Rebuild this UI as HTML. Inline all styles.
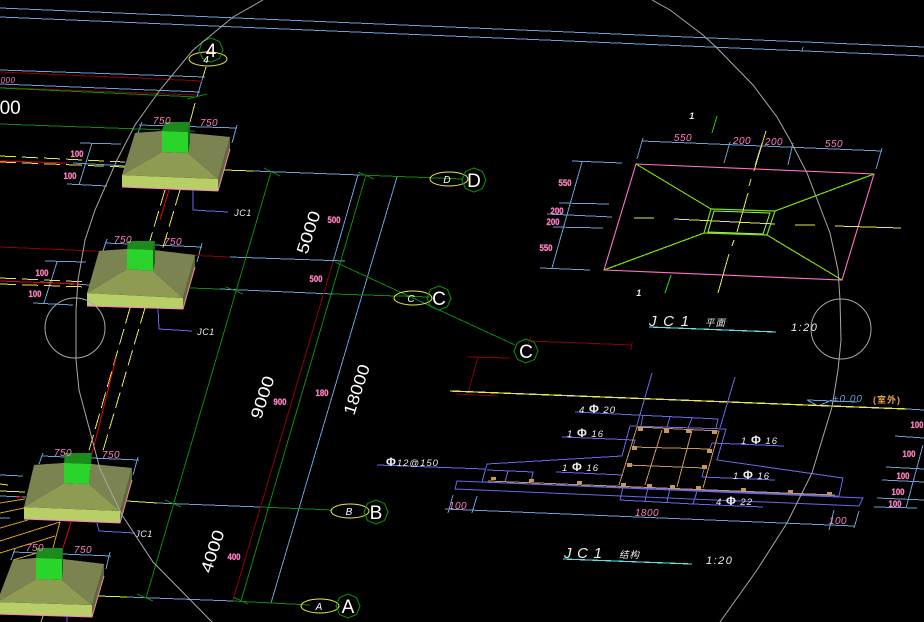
<!DOCTYPE html>
<html lang="en"><head><meta charset="utf-8"><title>JC1 foundation drawing</title>
<style>
html,body{margin:0;padding:0;background:#000;width:924px;height:622px;overflow:hidden}
svg{display:block}
text{font-family:"Liberation Sans","Noto Sans CJK SC",sans-serif}
path{shape-rendering:crispEdges}
.w{fill:#fff;font-size:16.5px}
.top{fill:#fff;font-size:19px}
.gl{fill:#fff;font-size:19px;text-anchor:middle}
.il{fill:#fff;font-size:10px;font-style:italic;text-anchor:middle}
.p{fill:#ff80c0;font-size:10px;font-style:italic;letter-spacing:.5px;text-anchor:middle}
.b{fill:#ff80c0;stroke:#ff80c0;stroke-width:.3;font-size:9px;font-weight:bold;text-anchor:middle}
.s{fill:#eee;font-size:9px;font-style:italic;letter-spacing:.5px;text-anchor:middle}
.t{fill:#eee;font-size:9.5px;font-style:italic;letter-spacing:1px}
.f{font-size:12px;font-weight:bold;font-style:normal}
.blue{stroke:#6aa0d8}.grn{stroke:#0a8a0a}.red{stroke:#8a0000}.rr{stroke:#e80000}.yel{stroke:#e8e84c}
.pur{stroke:#6868ec}.org{stroke:#c89858}.gold{stroke:#d8a020}
g{fill:none;stroke-width:1}
.d{fill:#c89858;stroke:none}
</style></head><body>
<svg width="924" height="622" viewBox="0 0 924 622" xmlns="http://www.w3.org/2000/svg">
<defs><polygon id="o" points="12,0 8.5,8.5 0,12 -8.5,8.5 -12,0 -8.5,-8.5 0,-12 8.5,-8.5" fill="none" stroke="#0a8a0a" stroke-width="1.1"/></defs>
<rect width="924" height="622" fill="#000"/>

<!-- top / left plan lines -->
<g class="blue">
<path d="M0 8L924 47M0 17L924 56M803 47L802 51"/>
<path d="M0 70L205 77M0 84L200 92M203 77L197 97"/>
<path d="M642 141L882 151M643 138L637 159M730 142L724 163M762 143L755 165M793 143L788 165M882 148L876 169"/>
<path d="M582 162L552 268M572 161L622 163M559 203L609 204M547 214L612 217M553 227L603 228M540 268L590 270"/>
<path d="M139 125L237 128M142 122L138 133M237 125L232 143M80 143L121 144M67 184L107 186M92 143L79 185M73 163L127 166"/>
<path d="M105 243L202 247M107 239L103 251M202 243L197 262M45 261L86 262M33 303L73 305M57 262L44 303M40 282L90 285"/>
<path d="M42 456L139 460M43 453L39 464M138 457L133 475M0 475L23 476M0 496L26 497M0 518L10 518"/>
<path d="M13 552L111 556M15 549L11 560M110 552L106 569"/>
<path d="M253 171L360 175M230 257L345 261M220 289L333 294M157 503L260 507M127 597L233 601"/>
<path d="M358 175L333 262M397 177L271 603"/>
<path d="M445 509L854 526M453 495L448 513M477 496L472 513M834 510L829 530M859 511L854 528"/>
<path d="M807 400L818 406L832 400M807 400L857 402"/>
<path d="M907 409L924 410M895 436L924 438M886 467L924 469M882 480L924 482M877 498L924 500M874 507L917 508M923 445L906 508"/>
</g>
<g>
<path class="red" d="M0 72L202 81M0 87.500L197 95M0 247L230 257"/>
<path class="grn" d="M0 88L197 97M187 99L207 94M0 124L195 131M190 288L220 289M333 294L430 297M360 175L463 179M260 507L333 510M233 601L310 605"/>
<path class="grn" d="M271 172L146 598M366 175L241 601M335 262L515 345"/>
<path class="grn" d="M264 168L280 176M358 172L374 179M226 287L243 294M165 500L181 507M137 594L153 601M233 597L248 604"/>
<path class="red" d="M333 262L233 600"/>
<path class="red" d="M467 357L510 358M478 357L468 393M456 394L498 396M530 341L632 345M632 342L631 350M531 337L527 347"/>
<path class="yel" d="M206 67L203 77M195 103L190 122M224 170L253 171M127 501L157 503M98 596L127 597"/>
<path class="yel" stroke-width="1.3" d="M450 391L907 409"/>
</g>

<!-- dashed columns -->
<g class="yel" stroke-dasharray="16 6">
<path d="M0 156L125 162M0 162L125 167M0 278L88 282M0 284L88 287"/>
<path d="M165 190L130 308M180 190L145 308M130 308L88 454M145 308L102 454"/>
</g>
<g class="yel"><path d="M0 491L25 492M0 484L8 485"/></g>
<g class="rr">
<path d="M0 161L67 163M0 281L80 284M169 190L160 220M116 358L92 454M71 522L63 548M16 497L22 497"/>
</g>
<g class="gold">
<path d="M0 503L25 499M0 513L24 508M0 528L28 520M0 541L60 522M0 553L55 536M13 560L37 553M60 522L53 548M43 616L41 622"/>
</g>

<!-- footings -->
<g stroke="none" style="stroke:none">
<polygon style="fill:#5f6a38" points="230,137 218,179 218,191 230,149"/>
<polygon style="fill:#b8cf68" points="122,175 218,179 218,191 122,187"/>
<polygon style="fill:#6f7545" points="135,133 230,137 188,133 162,131"/>
<polygon style="fill:#7b8450" points="135,133 122,175 162,152 162,131"/>
<polygon style="fill:#7b8450" points="230,137 218,179 188,153 188,133"/>
<polygon style="fill:#8d9c52" points="122,175 218,179 188,153 162,152"/>
<polygon style="fill:#1c8a1c" points="165,122 190,122 188,132 162,131"/>
<polygon style="fill:#146a14" points="190,122 188,132 188,153 190,143"/>
<polygon style="fill:#2bd42b" points="162,131 188,132 188,153 162,152"/>

<polygon style="fill:#5f6a38" points="195,255 183,298 183,309 195,267"/>
<polygon style="fill:#b8cf68" points="87,293 183,298 183,309 87,306"/>
<polygon style="fill:#6f7545" points="99,251 195,255 153,250 127,249"/>
<polygon style="fill:#7b8450" points="99,251 87,293 127,269 127,249"/>
<polygon style="fill:#7b8450" points="195,255 183,298 153,271 153,250"/>
<polygon style="fill:#8d9c52" points="87,293 183,298 153,271 127,269"/>
<polygon style="fill:#1c8a1c" points="128,241 155,241 153,250 127,249"/>
<polygon style="fill:#146a14" points="155,241 153,250 153,271 155,262"/>
<polygon style="fill:#2bd42b" points="127,249 153,250 153,271 127,269"/>

<polygon style="fill:#5f6a38" points="132,468 120,511 120,523 132,480"/>
<polygon style="fill:#b8cf68" points="24,507 120,511 120,523 24,519"/>
<polygon style="fill:#6f7545" points="34,465 132,468 91,464 64,463"/>
<polygon style="fill:#7b8450" points="34,465 24,507 64,483 64,463"/>
<polygon style="fill:#7b8450" points="132,468 120,511 89,484 91,464"/>
<polygon style="fill:#8d9c52" points="24,507 120,511 89,484 64,483"/>
<polygon style="fill:#1c8a1c" points="65,453 92,453 91,464 64,463"/>
<polygon style="fill:#146a14" points="92,453 91,464 89,484 90,474"/>
<polygon style="fill:#2bd42b" points="64,463 91,464 89,484 64,483"/>

<polygon style="fill:#5f6a38" points="104,564 92,605 92,617 104,576"/>
<polygon style="fill:#b8cf68" points="-3,602 92,605 92,617 -3,614"/>
<polygon style="fill:#6f7545" points="13,560 104,564 62,559 36,558"/>
<polygon style="fill:#7b8450" points="13,560 -3,602 36,579 36,558"/>
<polygon style="fill:#7b8450" points="104,564 92,605 62,580 62,559"/>
<polygon style="fill:#8d9c52" points="-3,602 92,605 62,580 36,579"/>
<polygon style="fill:#1c8a1c" points="37,548 63,548 62,559 36,558"/>
<polygon style="fill:#146a14" points="63,548 62,559 62,580 63,569"/>
<polygon style="fill:#2bd42b" points="36,558 62,559 62,580 36,579"/>
</g>
<g stroke="#ff80c0" stroke-width="1.2" style="stroke:#ff80c0">
<polyline points="122,187 218,191 230,149"/><polyline points="87,306 183,309 195,267"/><polyline points="24,519 120,523 132,480"/><polyline points="-3,614 92,617 104,576"/>
</g>

<!-- leaders -->
<g class="pur">
<path d="M193 190L193 210L228 212M158 308L159 329L192 331M97 523L99 531L135 533M67 617L67 622"/>
</g>

<!-- plan view JC1 -->
<g>
<polygon style="stroke:#ff70c8;stroke-width:1.1" points="636,164 874,174 842,280 604,270"/>
<g style="stroke:#7ee000;stroke-width:1.2">
<path d="M636 164L711 209M874 174L775 211M842 280L767 235M604 270L704 233"/>
<polygon points="711,209 775,211 767,235 704,233"/>
</g>
<polygon style="stroke:#a0f080" points="714,211 770,213 763,234 708,232"/>
<path class="yel" d="M634 218L654 218M674 219L775 224M795 225L815 225M835 226L901 228M766 131L754 171M751 179L749 186M748 193L737 232M734 240L732 246M729 254L718 293"/>
<path style="stroke:#10d010" d="M717 116L712 133M671 275L665 293"/>
<path style="stroke:#60e0e0;stroke-width:1.2" d="M649 327L776 332M563 559L692 564"/>
</g>

<!-- section view -->
<g class="pur">
<path d="M630 426L726 429L717 460L843 478L839 496M630 426L622 456L487 464L482 482"/>
<polygon points="457,481 863,498 859,506 455,489"/>
<path d="M487 470L533 472L531 482M508 471L505 482M482 482L839 496"/>
<path d="M377 465L485 469M562 437L635 440L633 448M556 472L623 475M712 443L784 446M712 443L708 453M702 477L775 480M702 477L705 465M693 504L763 507"/>
<path d="M575 412L718 419L716 428M652 373L637 425M735 377L720 428M643 415L641 426M670 417L667 427M692 418L688 428"/>
<path d="M620 500L693 504M623 487L620 500M648 487L645 501M670 488L667 502M698 488L693 504"/>
</g>
<g class="org">
<path d="M637 427L719 431M632 447L710 449M627 465L705 468M488 481L835 495"/>
<path d="M637 427L619 485M662 430L645 485M692 430L677 487M719 431L703 488"/>
</g>
<rect class="d" x="638" y="427" width="5" height="4"/><rect class="d" x="664" y="429" width="5" height="4"/><rect class="d" x="686" y="429" width="5" height="4"/><rect class="d" x="712" y="430" width="5" height="4"/>
<rect class="d" x="632" y="446" width="5" height="4"/><rect class="d" x="707" y="449" width="5" height="4"/><rect class="d" x="627" y="463" width="5" height="4"/><rect class="d" x="702" y="465" width="5" height="4"/>
<rect class="d" x="491" y="477" width="5" height="3"/><rect class="d" x="529" y="479" width="5" height="3"/><rect class="d" x="577" y="481" width="5" height="3"/><rect class="d" x="621" y="483" width="5" height="3"/><rect class="d" x="647" y="484" width="5" height="3"/><rect class="d" x="670" y="485" width="5" height="3"/><rect class="d" x="696" y="486" width="5" height="3"/><rect class="d" x="741" y="488" width="5" height="3"/><rect class="d" x="788" y="490" width="5" height="3"/><rect class="d" x="827" y="492" width="5" height="3"/>

<!-- rotated dimensions -->
<text class="w" transform="translate(307 255) rotate(-72)" textLength="44" lengthAdjust="spacingAndGlyphs">5000</text>
<text class="w" transform="translate(261 420) rotate(-72)" textLength="44" lengthAdjust="spacingAndGlyphs">9000</text>
<text class="w" transform="translate(354 416) rotate(-72)" textLength="52" lengthAdjust="spacingAndGlyphs">18000</text>
<text class="w" transform="translate(211 574) rotate(-72)" textLength="44" lengthAdjust="spacingAndGlyphs">4000</text>
<text class="top" x="-11" y="114">000</text>
<text class="p" x="8" y="83" style="font-size:8px">000</text>

<!-- grid bubbles -->
<g class="yel"><ellipse cx="208" cy="59" rx="19" ry="7"/><ellipse cx="449" cy="179" rx="19" ry="7"/><ellipse cx="413" cy="298" rx="19" ry="7"/><ellipse cx="350" cy="511" rx="19" ry="7"/><ellipse cx="320" cy="606" rx="19" ry="7"/></g>
<use href="#o" x="211" y="50"/><use href="#o" x="474" y="180"/><use href="#o" x="439" y="298"/><use href="#o" x="526" y="351"/><use href="#o" x="376" y="512"/><use href="#o" x="348" y="606"/>
<text class="gl" x="211" y="57">4</text><text class="gl" x="474" y="187">D</text><text class="gl" x="439" y="305">C</text><text class="gl" x="526" y="358">C</text><text class="gl" x="376" y="519">B</text><text class="gl" x="348" y="613">A</text>
<text class="il" x="206" y="63">4</text><text class="il" x="447" y="183">D</text><text class="il" x="411" y="302">C</text><text class="il" x="349" y="515">B</text><text class="il" x="319" y="610">A</text>

<!-- pink dimension text -->
<text class="p" x="162" y="124">750</text><text class="p" x="209" y="126">750</text>
<text class="p" x="123" y="243">750</text><text class="p" x="173" y="245">750</text>
<text class="p" x="63" y="456">750</text><text class="p" x="111" y="458">750</text>
<text class="p" x="35" y="551">750</text><text class="p" x="83" y="553">750</text>
<text class="p" x="683" y="141">550</text><text class="p" x="742" y="144">200</text><text class="p" x="774" y="145">200</text><text class="p" x="834" y="147">550</text>
<text class="p" x="458" y="509">100</text><text class="p" x="647" y="516">1800</text><text class="p" x="838" y="524">100</text>
<text class="b" x="77" y="157" textLength="13" lengthAdjust="spacingAndGlyphs">100</text><text class="b" x="70" y="179" textLength="13" lengthAdjust="spacingAndGlyphs">100</text>
<text class="b" x="42" y="276" textLength="13" lengthAdjust="spacingAndGlyphs">100</text><text class="b" x="35" y="297" textLength="13" lengthAdjust="spacingAndGlyphs">100</text>
<text class="b" x="334" y="223" textLength="13" lengthAdjust="spacingAndGlyphs">500</text><text class="b" x="316" y="282" textLength="13" lengthAdjust="spacingAndGlyphs">500</text>
<text class="b" x="280" y="405" textLength="13" lengthAdjust="spacingAndGlyphs">900</text><text class="b" x="322" y="396" textLength="13" lengthAdjust="spacingAndGlyphs">180</text><text class="b" x="234" y="560" textLength="13" lengthAdjust="spacingAndGlyphs">400</text>
<text class="b" x="565" y="186" textLength="13" lengthAdjust="spacingAndGlyphs">550</text><text class="b" x="557" y="214" textLength="13" lengthAdjust="spacingAndGlyphs">200</text><text class="b" x="553" y="225" textLength="13" lengthAdjust="spacingAndGlyphs">200</text><text class="b" x="546" y="251" textLength="13" lengthAdjust="spacingAndGlyphs">550</text>
<text class="b" x="917" y="428" textLength="13" lengthAdjust="spacingAndGlyphs">100</text><text class="b" x="909" y="457" textLength="13" lengthAdjust="spacingAndGlyphs">100</text><text class="b" x="903" y="479" textLength="13" lengthAdjust="spacingAndGlyphs">100</text><text class="b" x="898" y="495" textLength="13" lengthAdjust="spacingAndGlyphs">100</text><text class="b" x="895" y="507" textLength="13" lengthAdjust="spacingAndGlyphs">100</text>
<text class="s" x="243" y="216">JC1</text><text class="s" x="206" y="335">JC1</text><text class="s" x="144" y="537">JC1</text>
<text class="s" x="692" y="119" style="font-weight:bold">1</text><text class="s" x="639" y="296" style="font-weight:bold">1</text>

<!-- titles -->
<text fill="#eee" style="fill:#eee;font-size:15px;font-style:italic" x="649" y="326" textLength="40" lengthAdjust="spacing">JC1</text>
<text class="t" x="705" y="326">平面</text>
<text class="t" x="791" y="331" style="font-size:11px;letter-spacing:1.5px">1:20</text>
<text style="fill:#eee;font-size:15px;font-style:italic" x="564" y="558" textLength="38" lengthAdjust="spacing">JC1</text>
<text class="t" x="619" y="558">结构</text>
<text class="t" x="706" y="564" style="font-size:11px;letter-spacing:1.5px">1:20</text>

<!-- bar labels -->
<text class="t" x="579" y="413">4 <tspan class="f">Φ</tspan> 20</text>
<text class="t" x="567" y="437">1 <tspan class="f">Φ</tspan> 16</text>
<text class="t" x="386" y="466"><tspan class="f">Φ</tspan>12@150</text>
<text class="t" x="562" y="471">1 <tspan class="f">Φ</tspan> 16</text>
<text class="t" x="741" y="444">1 <tspan class="f">Φ</tspan> 16</text>
<text class="t" x="733" y="479">1 <tspan class="f">Φ</tspan> 16</text>
<text class="t" x="716" y="505">4 <tspan class="f">Φ</tspan> 22</text>
<text x="833" y="402" style="fill:#6aa0d8;font-size:10px;font-style:italic;letter-spacing:1px">±0.00</text>
<text x="873" y="403" style="fill:#e8a050;font-size:9px;font-weight:bold;letter-spacing:1px">(室外)</text>

<!-- big arc + circles -->
<g style="stroke:#a8a8a8">
<polyline points="263,0 233,17 193,50 160,90 135,125 117,160 95,210 85,240 78,280 76,310 76,360 79,390 87,420 100,469 122,515 153,562 212,622"/>
<polyline points="652,0 670,10 703,35 717,48 753,85 777,117 790,140 807,173 830,233 838,270 840,300 841,340 838,370 832,407 812,473 787,523 757,570 720,622"/>
<circle cx="75" cy="328" r="30"/><circle cx="841" cy="329" r="30"/>
</g>
</svg>
</body></html>
